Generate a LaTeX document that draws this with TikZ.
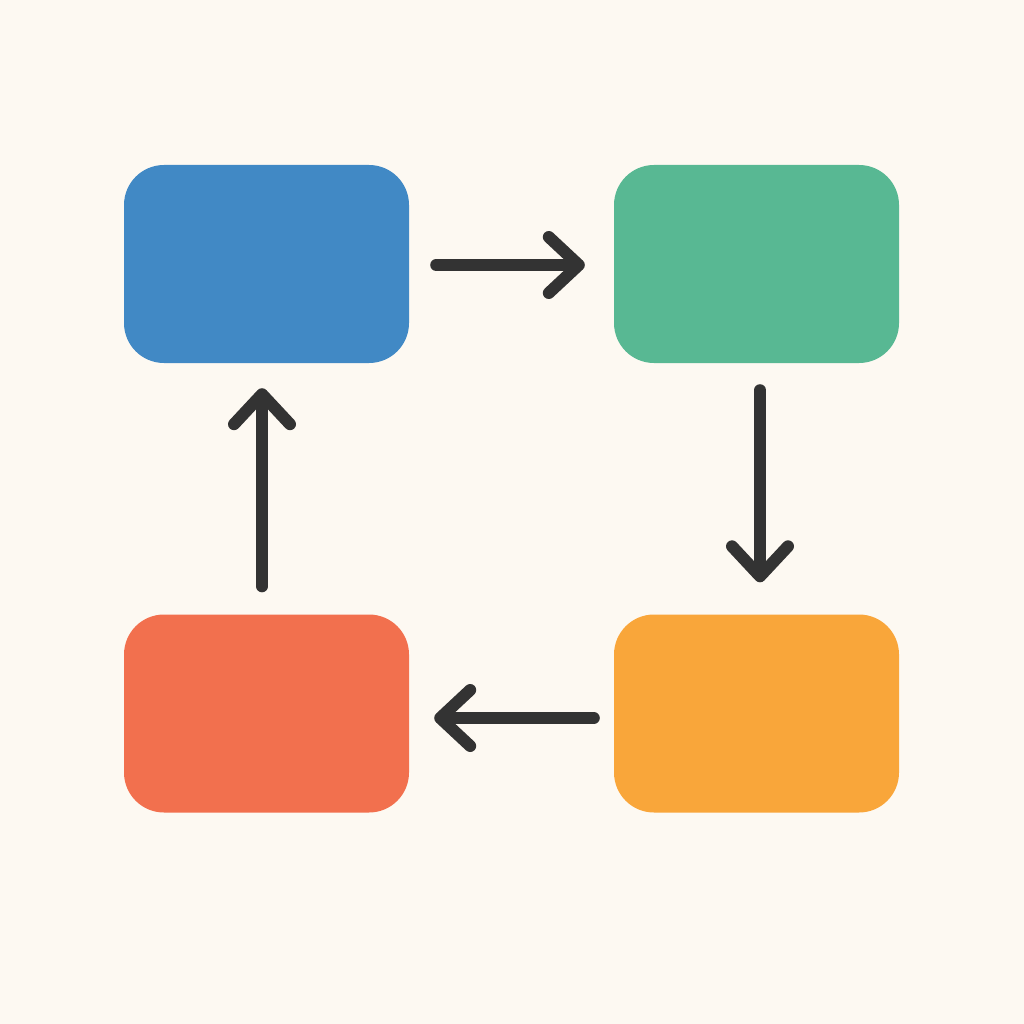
\documentclass[tikz,border=0pt]{standalone}
\usetikzlibrary{arrows.meta,calc}
\definecolor{bgc}{HTML}{FDF9F2}
\definecolor{cblue}{HTML}{4189C5}
\definecolor{cgreen}{HTML}{58B893}
\definecolor{cred}{HTML}{F2704E}
\definecolor{corange}{HTML}{F9A63A}
\definecolor{ink}{HTML}{333333}
\tikzset{
  box/.style={rectangle, rounded corners=40pt, minimum width=285pt, minimum height=198pt, inner sep=0pt, draw=none},
  conn/.style={draw=ink, line width=12pt, line cap=round, line join=round,
    -{Straight Barb[length=30pt, width=56pt, line width=12pt, line cap=round, line join=round]}}
}
\begin{document}
\begin{tikzpicture}[x=1pt,y=-1pt]
\fill[bgc] (0,0) rectangle (1024,1024);
\useasboundingbox (0,0) rectangle (1024,1024);
\node[box, fill=cblue] (b1) at (266.5,264) {};
\node[box, fill=cgreen] (b2) at (756.5,264) {};
\node[box, fill=corange] (b3) at (756.5,713.5) {};
\node[box, fill=cred] (b4) at (266.5,713.5) {};
\draw[conn] ($(b1.east)+(27,1)$) -- ($(b2.west)+(-29,1)$);
\draw[conn] ($(b2.south)+(3.5,27)$) -- ($(b3.north)+(3.5,-32)$);
\draw[conn] ($(b3.west)+(-20,4.5)$) -- ($(b4.east)+(25,4.5)$);
\draw[conn] ($(b4.north)+(-4.5,-28)$) -- ($(b1.south)+(-4.5,25)$);
\end{tikzpicture}
\end{document}
